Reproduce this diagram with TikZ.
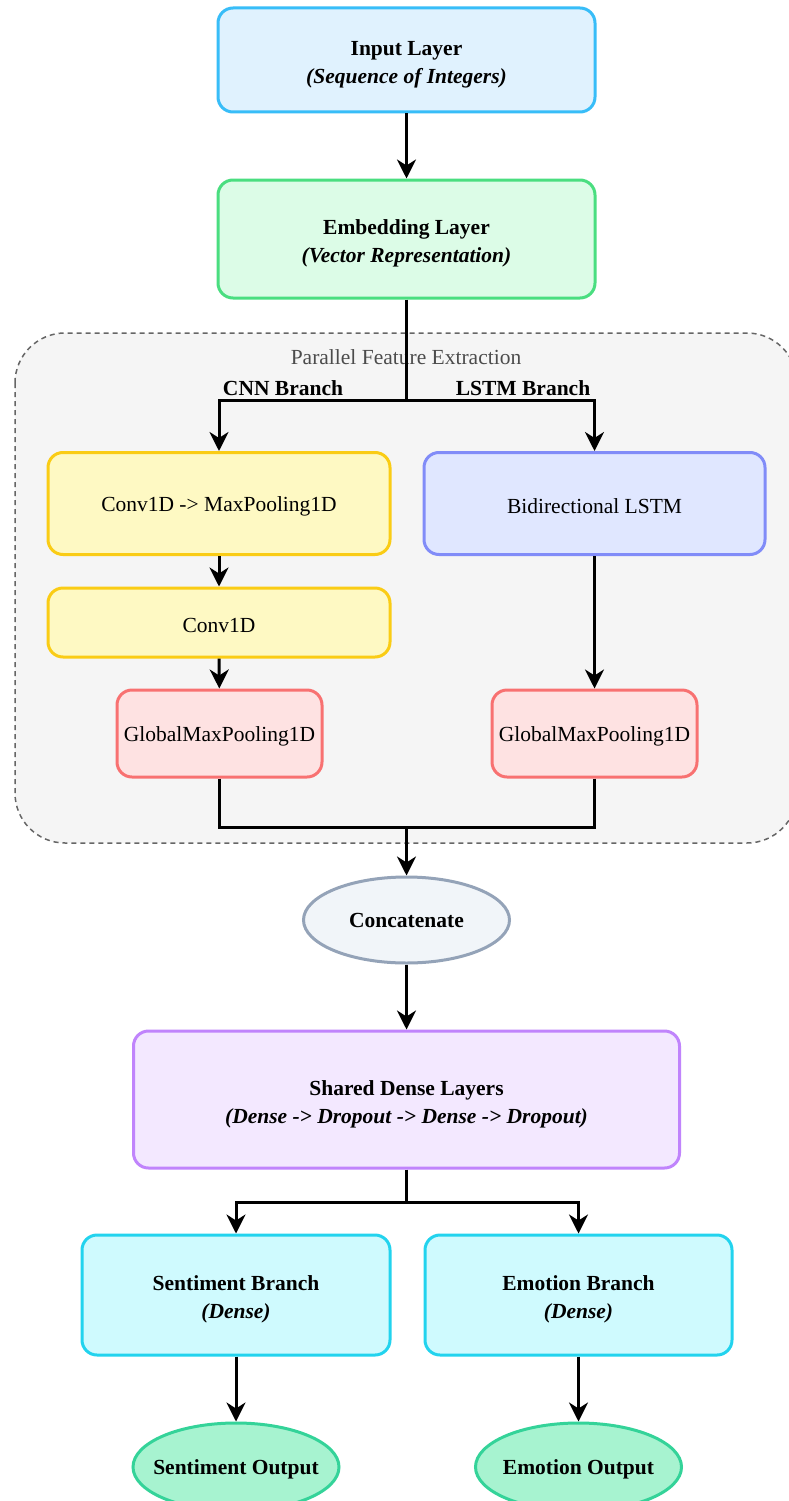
\documentclass[tikz,border=0pt]{standalone}
\usepackage{fontspec}
\setmainfont{Liberation Serif}
\usetikzlibrary{shapes.geometric,arrows.meta}
\definecolor{inFill}{HTML}{E0F2FE}\definecolor{inLine}{HTML}{38BDF8}
\definecolor{emFill}{HTML}{DCFCE7}\definecolor{emLine}{HTML}{4ADE80}
\definecolor{cvFill}{HTML}{FEF9C3}\definecolor{cvLine}{HTML}{FACC15}
\definecolor{lsFill}{HTML}{E0E7FF}\definecolor{lsLine}{HTML}{818CF8}
\definecolor{gmFill}{HTML}{FEE2E2}\definecolor{gmLine}{HTML}{F87171}
\definecolor{ccFill}{HTML}{F1F5F9}\definecolor{ccLine}{HTML}{94A3B8}
\definecolor{shFill}{HTML}{F3E8FF}\definecolor{shLine}{HTML}{C084FC}
\definecolor{brFill}{HTML}{CFFAFE}\definecolor{brLine}{HTML}{22D3EE}
\definecolor{opFill}{HTML}{A7F3D0}\definecolor{opLine}{HTML}{34D399}
\definecolor{grpFill}{HTML}{F5F5F5}\definecolor{grpLine}{HTML}{666666}
\newcommand\mytopstrut[1]{\rule{0pt}{#1}}
\tikzset{
  box/.style={draw, line width=3pt, rounded corners=15pt, inner sep=0pt, align=center,
    font=\fontsize{21.5}{28}\selectfont},
  oval/.style={draw, line width=3pt, ellipse, inner sep=0pt, align=center,
    font=\fontsize{21.5}{28}\selectfont\bfseries},
  wire/.style={line width=3pt, black},
  conn/.style={wire, -{Stealth[length=19pt,width=19pt,inset=6pt]}},
  lbl/.style={font=\fontsize{21.5}{28}\selectfont\bfseries, inner sep=0pt},
}
\begin{document}
\begin{tikzpicture}[x=1pt,y=-1pt]
\useasboundingbox (0,0) rectangle (789,1501);
\clip (0,0) rectangle (789,1501);
\fill[white] (0,0) rectangle (789,1501);

% group container
\draw[grpLine, fill=grpFill, line width=1.5pt, dash pattern=on 5pt off 4pt, rounded corners=50pt]
  (15,333) rectangle (797,843);
\node[font=\fontsize{21.5}{28}\selectfont, text=black!70, inner sep=0pt] (grp) at (406,357) {Parallel Feature Extraction};

% nodes
\node[box, fill=inFill, draw=inLine, minimum width=377pt, minimum height=104pt] (input) at (406.5,60)
  {\mytopstrut{24pt}\textbf{Input Layer}\\\textbf{\textit{(Sequence of Integers)}}};
\node[box, fill=emFill, draw=emLine, minimum width=377pt, minimum height=118pt] (embed) at (406.5,239)
  {\mytopstrut{24pt}\textbf{Embedding Layer}\\\textbf{\textit{(Vector Representation)}}};
\node[box, fill=cvFill, draw=cvLine, minimum width=342pt, minimum height=102pt] (conv1) at (219,503.5)
  {\mytopstrut{20pt}Conv1D -> MaxPooling1D};
\node[box, fill=lsFill, draw=lsLine, minimum width=341pt, minimum height=102pt] (lstm) at (594.5,503.5)
  {\mytopstrut{20pt}Bidirectional LSTM};
\node[box, fill=cvFill, draw=cvLine, minimum width=342pt, minimum height=69pt] (conv2) at (219,622.5)
  {\mytopstrut{20pt}Conv1D};
\node[box, fill=gmFill, draw=gmLine, minimum width=205pt, minimum height=87pt] (gmp1) at (219.5,733.5)
  {\mytopstrut{20pt}GlobalMaxPooling1D};
\node[box, fill=gmFill, draw=gmLine, minimum width=205pt, minimum height=87pt] (gmp2) at (594.5,733.5)
  {\mytopstrut{20pt}GlobalMaxPooling1D};
\node[oval, fill=ccFill, draw=ccLine, minimum width=206pt, minimum height=86pt] (concat) at (406.5,920)
  {\makebox[0pt]{Concatenate}};
\node[box, fill=shFill, draw=shLine, minimum width=546pt, minimum height=137pt] (shared) at (406.5,1099.5)
  {\mytopstrut{24pt}\textbf{Shared Dense Layers}\\\textbf{\textit{(Dense -> Dropout -> Dense -> Dropout)}}};
\node[box, fill=brFill, draw=brLine, minimum width=308pt, minimum height=120pt] (sent) at (236,1295)
  {\mytopstrut{23pt}\textbf{Sentiment Branch}\\\textbf{\textit{(Dense)}}};
\node[box, fill=brFill, draw=brLine, minimum width=307pt, minimum height=120pt] (emo) at (578.5,1295)
  {\mytopstrut{23pt}\textbf{Emotion Branch}\\\textbf{\textit{(Dense)}}};
\node[oval, fill=opFill, draw=opLine, minimum width=206pt, minimum height=88pt] (sout) at (236,1467)
  {\makebox[0pt]{\mytopstrut{19pt}Sentiment Output}};
\node[oval, fill=opFill, draw=opLine, minimum width=206pt, minimum height=88pt] (eout) at (578.5,1467)
  {\makebox[0pt]{\mytopstrut{19pt}Emotion Output}};

% connectors
\draw[conn] (input) -- (embed);
\coordinate (fork1) at (406.5,400);
\draw[wire] (embed.south) -- (fork1);
\draw[conn] (fork1) -| (conv1.north);
\draw[conn] (fork1) -| (lstm.north);
\node[lbl] (cnnlbl) at (283,388) {CNN Branch};
\node[lbl] (lstmlbl) at (523,388) {LSTM Branch};
\draw[conn] (conv1) -- (conv2);
\draw[conn] (conv2) -- (gmp1);
\draw[conn] (lstm) -- (gmp2);
\coordinate (join) at (406.5,827);
\draw[wire] (gmp1.south) |- (join);
\draw[wire] (gmp2.south) |- (join);
\draw[conn] (join) -- (concat.north);
\draw[conn] (concat) -- (shared);
\coordinate (fork2) at (406.5,1202);
\draw[wire] (shared.south) -- (fork2);
\draw[conn] (fork2) -| (sent.north);
\draw[conn] (fork2) -| (emo.north);
\draw[conn] (sent) -- (sout);
\draw[conn] (emo) -- (eout);
\end{tikzpicture}
\end{document}
